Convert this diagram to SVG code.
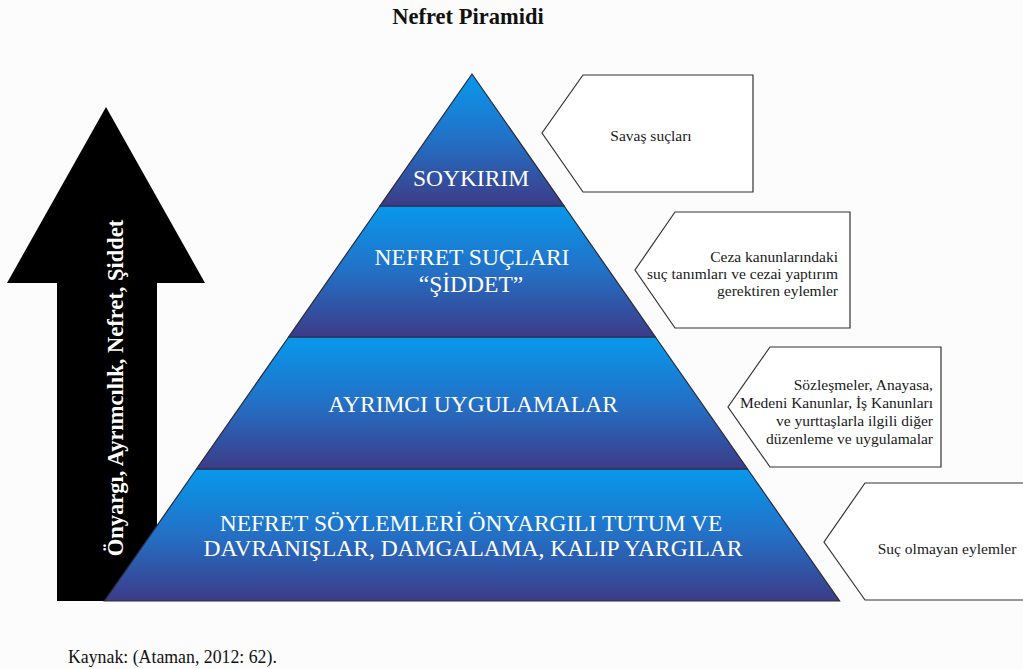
<svg xmlns="http://www.w3.org/2000/svg" width="1023" height="669" viewBox="0 0 1023 669">
<defs>
<linearGradient id="band" x1="0" y1="0" x2="0" y2="1">
<stop offset="0" stop-color="#0799ec"/>
<stop offset="0.5" stop-color="#2370c6"/>
<stop offset="1" stop-color="#3d3b87"/>
</linearGradient>
<style>
.serif{font-family:"Liberation Serif","Tinos","Times New Roman","DejaVu Serif",serif}
.band{fill:url(#band);stroke:#2a2a3a;stroke-width:1.2;stroke-linejoin:miter}
.bt{font-size:23.5px;fill:#ffffff;text-anchor:middle}
.call{fill:#ffffff;stroke:#333333;stroke-width:1.2}
.ct{font-size:15.5px;fill:#1a1a1a}
</style>
</defs>
<rect width="1023" height="669" fill="#fcfcfc"/>
<text class="serif" x="468" y="24" font-weight="bold" font-size="22.5" text-anchor="middle" fill="#111">Nefret Piramidi</text>

<g id="arrow">
<polygon points="106,107 205,283 157,283 157,601 57,601 57,283 7,283" fill="#000"/>
<text class="serif" transform="translate(123,388) rotate(-90)" font-weight="bold" font-size="22.5" fill="#fff" text-anchor="middle">Önyargı, Ayrımcılık, Nefret, Şiddet</text>
</g>

<g id="band4">
<polygon class="band" points="196.5,469 747.5,469 839.6,601 104.4,601"/>
<text class="serif bt" x="471" y="531">NEFRET SÖYLEMLERİ ÖNYARGILI TUTUM VE</text>
<text class="serif bt" x="473" y="556">DAVRANIŞLAR, DAMGALAMA, KALIP YARGILAR</text>
</g>
<g id="band3">
<polygon class="band" points="288.6,337 655.4,337 747.5,469 196.5,469"/>
<text class="serif bt" x="473" y="412">AYRIMCI UYGULAMALAR</text>
</g>
<g id="band2">
<polygon class="band" points="379.9,206 564.1,206 655.4,337 288.6,337"/>
<text class="serif bt" x="472" y="265">NEFRET SUÇLARI</text>
<text class="serif bt" x="471" y="292">“ŞİDDET”</text>
</g>
<g id="band1">
<polygon class="band" points="472,74 564.1,206 379.9,206"/>
<text class="serif bt" x="471" y="186">SOYKIRIM</text>
</g>

<g id="callout1">
<polygon class="call" points="583,75 753,75 753,192 583,192 542,133"/>
<text class="serif ct" x="651" y="141" text-anchor="middle">Savaş suçları</text>
</g>
<g id="callout2">
<polygon class="call" points="675,212 850,212 850,328 675,328 635,270"/>
<text class="serif ct" x="838" y="262" text-anchor="end">Ceza kanunlarındaki</text>
<text class="serif ct" x="838" y="279" text-anchor="end">suç tanımları ve cezai yaptırım</text>
<text class="serif ct" x="838" y="296" text-anchor="end">gerektiren eylemler</text>
</g>
<g id="callout3">
<polygon class="call" points="770,347 941,347 941,467 770,467 728,407"/>
<text class="serif ct" x="933" y="390" text-anchor="end" font-size="15.8">Sözleşmeler, Anayasa,</text>
<text class="serif ct" x="933" y="408" text-anchor="end" font-size="15.8">Medeni Kanunlar, İş Kanunları</text>
<text class="serif ct" x="933" y="426" text-anchor="end" font-size="15.8">ve yurttaşlarla ilgili diğer</text>
<text class="serif ct" x="933" y="444" text-anchor="end" font-size="15.8">düzenleme ve uygulamalar</text>
</g>
<g id="callout4">
<polyline class="call" points="1024,483 865,483 824,542 865,600 1024,600"/>
<text class="serif ct" x="947" y="554" text-anchor="middle" font-size="15.8">Suç olmayan eylemler</text>
</g>

<text class="serif" x="68" y="663" font-size="17.8" fill="#111">Kaynak: (Ataman, 2012: 62).</text>
</svg>
